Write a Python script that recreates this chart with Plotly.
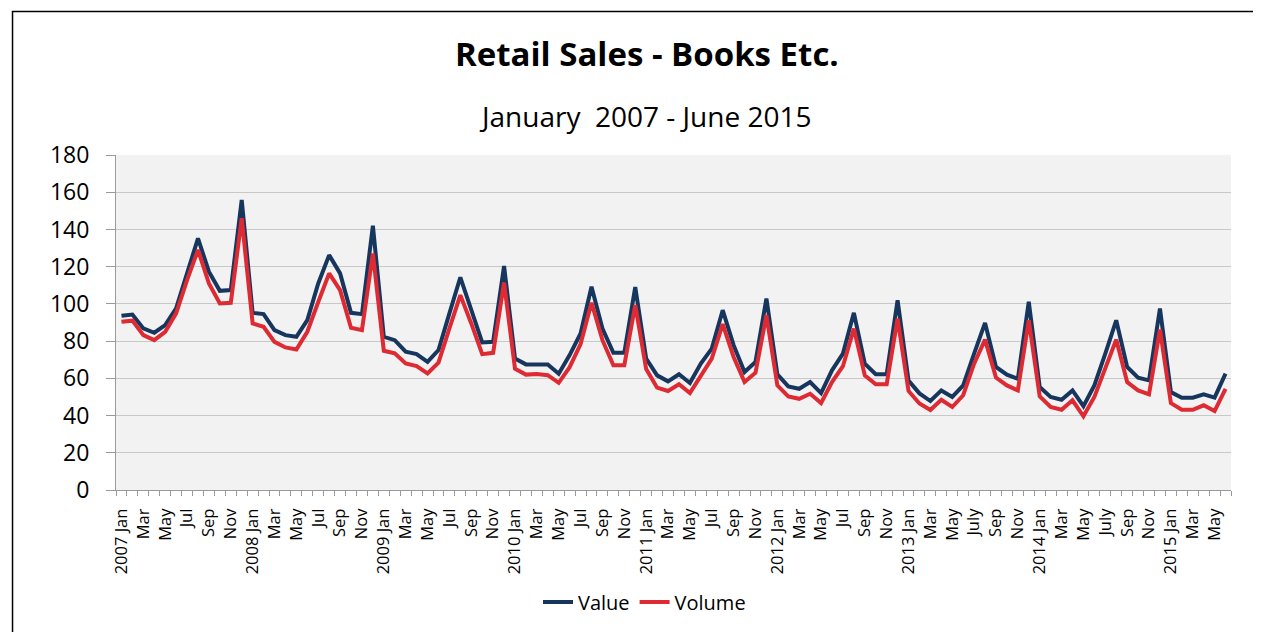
import plotly.graph_objects as go

years = [2007, 2008, 2009, 2010, 2011, 2012, 2013, 2014, 2015]

value = [
    93.6, 94.3, 86.8, 84.5, 88.6, 97.6, 116.4, 135.2, 117.3, 107.0, 107.4, 155.8,
    95.2, 94.5, 85.9, 83.2, 82.3, 91.3, 111.0, 126.2, 116.4, 95.2, 94.5, 142.0,
    82.3, 80.5, 74.3, 73.0, 68.9, 75.2, 94.9, 114.3, 96.8, 79.3, 79.6, 120.4,
    70.7, 67.5, 67.5, 67.5, 62.5, 72.5, 84.1, 109.2, 86.8, 73.7, 73.7, 109.0,
    70.6, 61.6, 58.4, 62.2, 57.5, 67.9, 76.0, 96.6, 77.8, 63.4, 68.8, 102.9,
    62.2, 55.7, 54.4, 58.0, 52.1, 64.3, 73.3, 95.2, 67.9, 62.2, 62.2, 102.0,
    58.8, 51.9, 47.8, 53.5, 50.0, 56.2, 73.3, 89.8, 66.1, 62.0, 59.8, 101.1,
    55.3, 50.0, 48.5, 53.5, 45.0, 56.2, 73.3, 91.2, 66.1, 60.4, 58.9, 97.5,
    52.6, 49.6, 49.6, 51.4, 49.6, 62.5,
]

volume = [
    90.4, 91.0, 83.2, 80.5, 85.0, 94.9, 112.8, 129.0, 111.0, 100.2, 100.6, 146.0,
    89.5, 87.7, 79.6, 76.6, 75.5, 85.0, 101.0, 116.4, 107.4, 87.2, 85.9, 127.1,
    74.8, 73.4, 68.0, 66.6, 62.6, 68.4, 86.8, 104.7, 89.5, 73.0, 73.7, 111.4,
    65.2, 62.0, 62.3, 61.7, 57.6, 66.0, 78.4, 100.6, 80.5, 67.0, 67.0, 99.4,
    65.0, 55.0, 53.2, 56.8, 52.1, 61.6, 70.6, 89.1, 71.5, 58.0, 63.0, 93.9,
    56.2, 50.3, 49.0, 51.7, 46.7, 58.0, 66.5, 86.7, 61.6, 56.8, 56.8, 92.1,
    53.2, 46.5, 43.0, 48.5, 44.6, 50.9, 67.9, 80.8, 60.4, 56.2, 53.5, 91.2,
    50.3, 44.6, 43.1, 48.2, 39.6, 50.0, 65.2, 80.8, 58.0, 53.5, 51.4, 86.2,
    46.7, 43.1, 43.1, 45.5, 42.4, 54.4,
]

tick_labels = [
    "2007 Jan", "Mar", "May", "Jul", "Sep", "Nov",
    "2008 Jan", "Mar", "May", "Jul", "Sep", "Nov",
    "2009 Jan", "Mar", "May", "Jul", "Sep", "Nov",
    "2010 Jan", "Mar", "May", "Jul", "Sep", "Nov",
    "2011 Jan", "Mar", "May", "Jul", "Sep", "Nov",
    "2012 Jan", "Mar", "May", "Jul", "Sep", "Nov",
    "2013 Jan", "Mar", "May", "July", "Sep", "Nov",
    "2014 Jan", "Mar", "May", "July", "Sep", "Nov",
    "2015 Jan", "Mar", "May",
]

categories = [f"{y}-{m:02d}" for y in years for m in range(1, 13)][:len(value)]
tick_text = []
li = 0
for i, c in enumerate(categories):
    if i % 2 == 0:
        tick_text.append(tick_labels[li])
        li += 1
    else:
        tick_text.append("")

FONT = "Open Sans"
BLUE = "#17365D"
RED = "#DE2A33"

fig = go.Figure()
fig.add_trace(go.Scatter(x=categories, y=value, mode="lines", name="Value",
                         line=dict(color=BLUE, width=4)))
fig.add_trace(go.Scatter(x=categories, y=volume, mode="lines", name="Volume",
                         line=dict(color=RED, width=4)))

fig.update_layout(
    width=1261, height=632,
    margin=dict(l=108, r=38, t=147, b=150),
    paper_bgcolor="white",
    plot_bgcolor="#F2F2F2",
    font=dict(family=FONT, color="black"),
    showlegend=True,
    legend=dict(orientation="h", x=0.474, xanchor="center", y=-0.334, yanchor="middle",
                font=dict(size=20, family=FONT), bgcolor="rgba(0,0,0,0)",
                itemwidth=30),
    xaxis=dict(
        type="category",
        tickmode="array", tickvals=categories, ticktext=tick_text,
        tickson="boundaries", ticks="outside", ticklen=5, tickcolor="#9A9A9A",
        tickangle=-90, tickfont=dict(size=16.5, family=FONT),
        showgrid=False, showline=True, linecolor="#9A9A9A", linewidth=1,
        range=[-0.5, len(categories) - 0.5],
        ticklabelstandoff=11,
    ),
    yaxis=dict(
        range=[0, 180], dtick=20, tick0=0,
        showgrid=True, gridcolor="#C8C8C8", gridwidth=1,
        showline=True, linecolor="#9A9A9A", linewidth=1,
        ticks="outside", ticklen=9, tickcolor="#9A9A9A",
        tickfont=dict(size=23, family=FONT),
        zeroline=False,
        ticklabelstandoff=12,
    ),
    annotations=[
        dict(text="<b>Retail Sales - Books Etc.</b>", xref="paper", yref="paper",
             x=0.476, y=1.303, xanchor="center", yanchor="middle",
             showarrow=False, font=dict(size=33, family=FONT, color="black")),
        dict(text="January  2007 - June 2015", xref="paper", yref="paper",
             x=0.4753, y=1.115, xanchor="center", yanchor="middle",
             showarrow=False, font=dict(size=28, family=FONT, color="black")),
    ],
    shapes=[
        dict(type="rect", xref="paper", yref="paper",
             x0=-0.0928, x1=1.1, y0=-0.7, y1=1.4284,
             line=dict(color="black", width=1.5), fillcolor="rgba(0,0,0,0)", layer="below"),
    ],
)

fig.write_html("out.html")
